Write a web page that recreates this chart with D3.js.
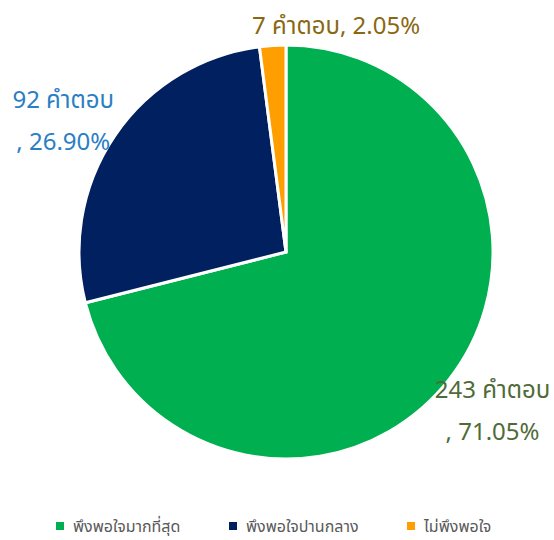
<!DOCTYPE html>
<html>
<head>
<meta charset="utf-8">
<script src="https://cdn.jsdelivr.net/npm/d3@7"></script>
<style>
  body { margin: 0; background: #fff; }
  text { font-family: "Noto Sans Thai", "Leelawadee UI", Tahoma, "Noto Sans", sans-serif; }
</style>
</head>
<body>
<svg id="chart" width="554" height="540"></svg>
<script>
const categories = ["พึงพอใจมากที่สุด", "พึงพอใจปานกลาง", "ไม่พึงพอใจ"];
const counts = [243, 92, 7];
const percents = ["71.05%", "26.90%", "2.05%"];
const colors = ["#00b050", "#002060", "#ff9e00"];
const labelColors = ["#4f6b38", "#2a7ec4", "#8a6712"];

const width = 554, height = 540;
const svg = d3.select("#chart");

const cx = 286, cy = 252, radius = 207;

const data = categories.map((c, i) => ({ label: c, value: counts[i], pct: percents[i], i }));

const pie = d3.pie().value(d => d.value).sort(null);
const arc = d3.arc().innerRadius(0).outerRadius(radius);
const arcs = pie(data);

const pieG = svg.append("g").attr("transform", `translate(${cx}, ${cy})`);

pieG.selectAll("path")
  .data(arcs)
  .enter()
  .append("path")
  .attr("d", arc)
  .attr("fill", d => colors[d.data.i])
  .attr("stroke", "#fff")
  .attr("stroke-width", 3)
  .attr("stroke-linejoin", "miter");

// data labels, pulled outside the pie like the original layout
// each: offset from centroid of label arc, and whether it is split into two lines
const labelArc = d3.arc().innerRadius(radius * 1.05).outerRadius(radius * 1.05);
const labelLayout = [
  { dx: 35, dy: 13, split: true },
  { dx: -43, dy: -22, split: true },
  { dx: 64, dy: -1, split: false }
];

arcs.forEach((d, k) => {
  const [x, y] = labelArc.centroid(d);
  const lay = labelLayout[k];
  const t = pieG.append("text")
    .attr("text-anchor", "middle")
    .attr("fill", labelColors[k])
    .style("font-size", "24px");
  if (lay.split) {
    t.append("tspan")
      .attr("x", x + lay.dx)
      .attr("y", y + lay.dy)
      .text(`${d.data.value} คำตอบ`);
    t.append("tspan")
      .attr("x", x + lay.dx)
      .attr("y", y + lay.dy + 42)
      .text(`, ${d.data.pct}`);
  } else {
    t.attr("x", x + lay.dx)
      .attr("y", y + lay.dy)
      .text(`${d.data.value} คำตอบ, ${d.data.pct}`);
  }
});

// legend
const legendX = [56, 229, 407];
const legend = svg.append("g").attr("transform", "translate(0, 522)");
categories.forEach((c, i) => {
  const row = legend.append("g").attr("transform", `translate(${legendX[i]}, 0)`);
  row.append("rect")
    .attr("width", 8)
    .attr("height", 8)
    .attr("fill", colors[i]);
  row.append("text")
    .attr("x", 17)
    .attr("y", 10)
    .text(c)
    .style("font-size", "16px")
    .style("fill", "#595959");
});
</script>
</body>
</html>
